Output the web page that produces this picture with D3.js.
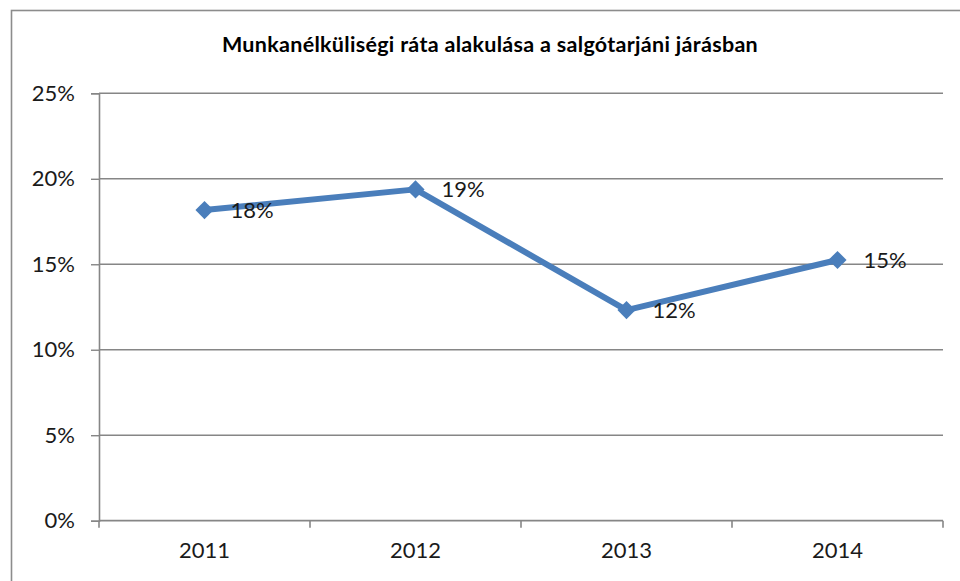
<!DOCTYPE html>
<html>
<head>
<meta charset="utf-8">
<script src="https://cdn.jsdelivr.net/npm/d3@7"></script>
<style>
  html, body { margin: 0; padding: 0; background: #fff; }
  svg { display: block; }
</style>
</head>
<body>
<svg id="chart" width="960" height="581"></svg>
<script>
const title = "Munkanélküliségi ráta alakulása a salgótarjáni járásban";
const categories = ["2011", "2012", "2013", "2014"];
const values = [0.1817, 0.1938, 0.1232, 0.1525];
const yTicks = [0, 0.05, 0.10, 0.15, 0.20, 0.25];

const svg = d3.select("#chart");
const m = { left: 99, right: 943, top: 93.3, bottom: 520.7 };
const blue = "#4A7EBB";
const gray = "#868686";
const font = "Lato, 'Open Sans', sans-serif";

svg.append("rect").attr("x", 11.5).attr("y", 10.5)
  .attr("width", 1000).attr("height", 1000)
  .attr("fill", "#fff").attr("stroke", "#8c8c8c").attr("stroke-width", 1.6);

svg.append("text").attr("x", 490).attr("y", 52)
  .attr("text-anchor", "middle")
  .attr("font-family", font).attr("font-weight", "bold")
  .attr("font-size", 21.5).attr("letter-spacing", 0.3).attr("fill", "#000")
  .text(title);

const x = d3.scaleBand().domain(categories).range([m.left, m.right]);
const y = d3.scaleLinear().domain([0, 0.25]).range([m.bottom, m.top]);

// gridlines
svg.append("g").selectAll("line").data(yTicks.slice(1)).join("line")
  .attr("x1", m.left).attr("x2", m.right)
  .attr("y1", d => y(d)).attr("y2", d => y(d))
  .attr("stroke", gray).attr("stroke-width", 1.4);

// y axis
const yAxis = svg.append("g").attr("transform", `translate(${m.left},0)`)
  .call(d3.axisLeft(y).tickValues(yTicks).tickFormat(d3.format(".0%")).tickSize(8).tickPadding(16));
yAxis.select(".domain").attr("stroke", gray).attr("stroke-width", 1.6);
yAxis.selectAll(".tick line").attr("stroke", gray).attr("stroke-width", 1.4);
yAxis.selectAll(".tick text").attr("font-family", font).attr("font-size", 22).attr("fill", "#1a1a1a");

// x axis
const xAxis = svg.append("g").attr("transform", `translate(0,${m.bottom})`)
  .call(d3.axisBottom(x).tickSize(0).tickPadding(22));
xAxis.select(".domain").remove();
xAxis.selectAll(".tick text").attr("font-family", font).attr("font-size", 22).attr("fill", "#1a1a1a");
svg.append("line").attr("x1", m.left).attr("x2", m.right)
  .attr("y1", m.bottom).attr("y2", m.bottom)
  .attr("stroke", gray).attr("stroke-width", 1.8);
const bounds = categories.map(c => x(c)).concat([x(categories[categories.length - 1]) + x.bandwidth()]);
svg.append("g").selectAll("line").data(bounds).join("line")
  .attr("x1", d => d).attr("x2", d => d)
  .attr("y1", m.bottom).attr("y2", m.bottom + 7)
  .attr("stroke", gray).attr("stroke-width", 1.6);

const cx = c => x(c) + x.bandwidth() / 2;
const pts = categories.map((c, i) => ({ c, v: values[i] }));

svg.append("path").datum(pts)
  .attr("d", d3.line().x(d => cx(d.c)).y(d => y(d.v)))
  .attr("fill", "none").attr("stroke", blue).attr("stroke-width", 6)
  .attr("stroke-linejoin", "round");

svg.append("g").selectAll("path").data(pts).join("path")
  .attr("d", d3.symbol().type(d3.symbolSquare).size(165))
  .attr("transform", d => `translate(${cx(d.c)},${y(d.v)}) rotate(45)`)
  .attr("fill", blue);

svg.append("g").selectAll("text").data(pts).join("text")
  .attr("x", d => cx(d.c) + 26).attr("y", d => y(d.v) + 2)
  .attr("dominant-baseline", "middle")
  .attr("font-family", font).attr("font-size", 22).attr("fill", "#1a1a1a")
  .text(d => d3.format(".0%")(d.v));
</script>
</body>
</html>
